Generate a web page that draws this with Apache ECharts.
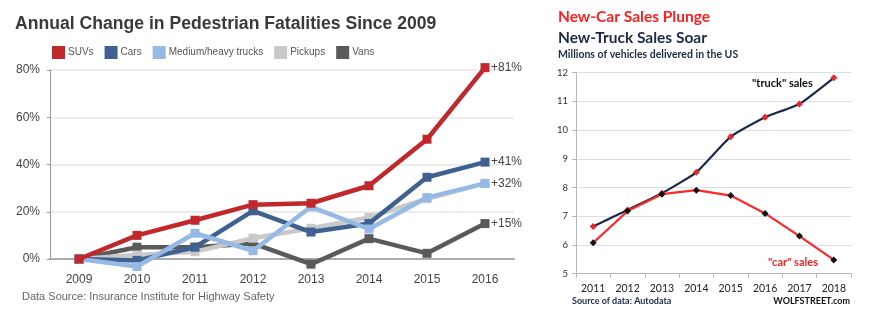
<!DOCTYPE html>
<html>
<head>
<meta charset="utf-8">
<script src="https://cdn.jsdelivr.net/npm/echarts@6/dist/echarts.min.js"></script>
<style>
  html, body { margin: 0; padding: 0; background: #fff; }
  #chart { width: 874px; height: 321px; }
</style>
</head>
<body>
<div id="chart"></div>
<script>
// Pedestrian fatalities: annual change since 2009, by vehicle type (%)
const fatalYears = ['2009', '2010', '2011', '2012', '2013', '2014', '2015', '2016'];
const suvs    = [0, 10, 16.4, 23, 23.6, 31, 50.7, 81];
const cars    = [0, -0.6, 5, 20.4, 11.4, 15, 34.6, 41];
const trucks  = [0, -3.2, 10.9, 3.5, 22.1, 12.7, 26, 32];
const pickups = [0, 1.7, 3.1, 8.8, 13, 17.6, 25.5, 32];
const vans    = [0, 5, 5, 6.6, -2.2, 8.6, 2.4, 15];
const pctTicks = [0, 20, 40, 60, 80];

// US new-vehicle deliveries (millions)
const salesYears = ['2011', '2012', '2013', '2014', '2015', '2016', '2017', '2018'];
const truckSales = [6.64, 7.22, 7.8, 8.53, 9.77, 10.45, 10.91, 11.82];
const carSales   = [6.08, 7.18, 7.77, 7.91, 7.72, 7.1, 6.31, 5.48];

const chart = echarts.init(document.getElementById('chart'), null, { renderer: 'canvas' });

const leftFont = 'Liberation Sans, Arial, sans-serif';
const rightFont = 'Lato, Open Sans, sans-serif';

function fatalSeries(name, data, color, z) {
  return {
    name: name,
    type: 'line',
    xAxisIndex: 0,
    yAxisIndex: 0,
    data: data,
    clip: false,
    z: z,
    symbol: 'rect',
    symbolSize: 9,
    lineStyle: { width: 4.5, color: color },
    itemStyle: { color: color },
    emphasis: { disabled: true },
    endLabel: {
      show: name !== 'Pickups',
      formatter: p => '+' + Math.round(p.value) + '%',
      color: '#444',
      fontFamily: leftFont,
      fontSize: 12,
      distance: 6
    }
  };
}

function salesSeries(data, lineColor, markerColor, smooth) {
  return {
    type: 'line',
    xAxisIndex: 1,
    yAxisIndex: 1,
    data: data,
    smooth: smooth,
    symbol: 'diamond',
    symbolSize: 7,
    lineStyle: { width: 2.2, color: lineColor },
    itemStyle: { color: markerColor, borderWidth: 0 },
    emphasis: { disabled: true }
  };
}

chart.setOption({
  animation: false,
  backgroundColor: '#fff',
  textStyle: { fontFamily: leftFont },
  title: [
    {
      text: 'Annual Change in Pedestrian Fatalities Since 2009',
      left: 15, top: 15, padding: 0,
      textStyle: { fontFamily: leftFont, fontWeight: 'bold', fontSize: 17.6, color: '#3a3a3a' }
    },
    {
      text: 'New-Car Sales Plunge',
      left: 558, top: 9, padding: 0,
      textStyle: { fontFamily: rightFont, fontWeight: 'bold', fontSize: 15.5, color: '#ff2020' }
    },
    {
      text: 'New-Truck Sales Soar',
      left: 558, top: 30, padding: 0,
      textStyle: { fontFamily: rightFont, fontWeight: 'bold', fontSize: 15.5, color: '#1b2a45' }
    },
    {
      text: 'Millions of vehicles delivered in the US',
      left: 558, top: 49, padding: 0,
      textStyle: { fontFamily: rightFont, fontWeight: 'bold', fontSize: 10.5, color: '#1b2a45' }
    }
  ],
  legend: {
    left: 52, top: 46, padding: 0,
    itemWidth: 13, itemHeight: 13, itemGap: 11,
    icon: 'rect',
    selectedMode: false,
    textStyle: { fontFamily: leftFont, fontSize: 10, color: '#555', padding: [0, 0, 0, -2] },
    data: ['SUVs', 'Cars', 'Medium/heavy trucks', 'Pickups', 'Vans']
  },
  grid: [
    { left: 50, top: 70, width: 464, height: 189 },
    { left: 576, top: 72.7, width: 275, height: 201 }
  ],
  xAxis: [
    {
      type: 'category', gridIndex: 0, data: fatalYears, boundaryGap: true,
      axisLine: { show: true, lineStyle: { color: '#aaa', width: 2 } },
      axisTick: { show: false },
      axisLabel: { color: '#444', fontSize: 12, margin: 15, fontFamily: leftFont }
    },
    {
      type: 'category', gridIndex: 1, data: salesYears, boundaryGap: true,
      axisLine: { show: true, lineStyle: { color: '#b8b8b8', width: 1 } },
      axisTick: { show: true, length: 4, inside: false, interval: 0, lineStyle: { color: '#b8b8b8' } },
      axisLabel: { color: '#222', fontSize: 10.5, margin: 9, interval: 0, fontFamily: rightFont }
    }
  ],
  yAxis: [
    {
      type: 'value', gridIndex: 0, min: pctTicks[0], max: pctTicks[pctTicks.length - 1], interval: 20,
      axisLine: { show: true, lineStyle: { color: '#999', width: 1 } },
      axisTick: { show: true, length: 3, lineStyle: { color: '#999' } },
      splitLine: { lineStyle: { color: '#e6e6e6', width: 1.5 } },
      axisLabel: { color: '#444', fontSize: 12, margin: 10, formatter: '{value}%', fontFamily: leftFont }
    },
    {
      type: 'value', gridIndex: 1, min: 5, max: 12, interval: 1,
      axisLine: { show: true, lineStyle: { color: '#b8b8b8', width: 1 } },
      axisTick: { show: true, length: 4, lineStyle: { color: '#b8b8b8' } },
      splitLine: { lineStyle: { color: '#d6dff0', width: 1 } },
      axisLabel: { color: '#333', fontSize: 9.5, margin: 8, fontFamily: rightFont }
    }
  ],
  series: [
    fatalSeries('Vans', vans, '#5a5a5a', 2),
    fatalSeries('Pickups', pickups, '#c9c9c9', 3),
    fatalSeries('Cars', cars, '#3f6190', 4),
    fatalSeries('Medium/heavy trucks', trucks, '#97b9e6', 5),
    fatalSeries('SUVs', suvs, '#c0282b', 6),
    salesSeries(truckSales, '#1b2a48', '#e8262b', 0.15),
    salesSeries(carSales, '#ff2828', '#111', false)
  ],
  graphic: [
    {
      type: 'text', left: 22, top: 291,
      style: { text: 'Data Source: Insurance Institute for Highway Safety', fill: '#666', font: '11px ' + leftFont }
    },
    {
      type: 'text', left: 752, top: 78,
      style: { text: '"truck" sales', fill: '#111', font: 'bold 11px ' + rightFont }
    },
    {
      type: 'text', left: 768, top: 257,
      style: { text: '"car" sales', fill: '#ff2020', font: 'bold 11px ' + rightFont }
    },
    {
      type: 'text', left: 572, top: 297,
      style: { text: 'Source of data: Autodata', fill: '#1b2a45', font: 'bold 9px ' + rightFont }
    },
    {
      type: 'text', right: 24, top: 297,
      style: { text: 'WOLFSTREET.com', fill: '#111', font: 'bold 9px ' + rightFont }
    }
  ]
});
</script>
</body>
</html>
